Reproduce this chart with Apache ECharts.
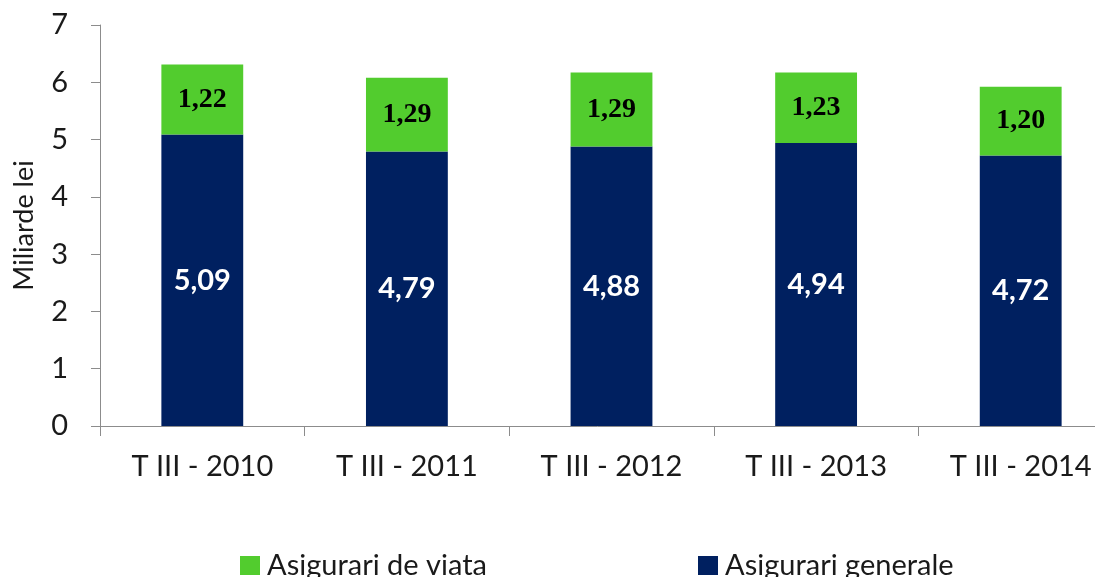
<!DOCTYPE html>
<html>
<head>
<meta charset="utf-8">
<script src="https://cdn.jsdelivr.net/npm/echarts@6/dist/echarts.min.js"></script>
<style>
  html, body { margin: 0; padding: 0; background: #fff; }
  #chart { width: 1095px; height: 577px; }
</style>
</head>
<body>
<div id="chart"></div>
<script>
const categories = ['T III - 2010', 'T III - 2011', 'T III - 2012', 'T III - 2013', 'T III - 2014'];
const generale = [5.09, 4.79, 4.88, 4.94, 4.72];
const viata = [1.22, 1.29, 1.29, 1.23, 1.20];
const yTicks = [0, 1, 2, 3, 4, 5, 6, 7];

const fmt = (v) => v.toFixed(2).replace('.', ',');

const legendBase = {
  top: 546,
  itemWidth: 20,
  itemHeight: 19,
  icon: 'rect',
  textStyle: { color: '#1a1a1a', fontSize: 29, fontFamily: 'Lato', padding: [0, 0, 0, 2] }
};

const myChart = echarts.init(document.getElementById('chart'));
myChart.setOption({
  animation: false,
  textStyle: { fontFamily: 'Lato' },
  grid: {
    left: 100,
    top: 25,
    width: 1023,
    height: 401,
    containLabel: false,
    outerBoundsMode: 'none'
  },
  legend: [
    Object.assign({ data: ['Asigurari de viata'], left: 235 }, legendBase),
    Object.assign({ data: ['Asigurari generale'], left: 693 }, legendBase)
  ],
  xAxis: {
    type: 'category',
    data: categories,
    axisLine: { lineStyle: { color: '#8c8c8c' } },
    axisTick: { show: true, length: 10, lineStyle: { color: '#8c8c8c' } },
    axisLabel: { color: '#1a1a1a', fontSize: 29, margin: 26, fontFamily: 'Lato' }
  },
  yAxis: {
    type: 'value',
    min: yTicks[0],
    max: yTicks[yTicks.length - 1],
    interval: 1,
    name: 'Miliarde lei',
    nameLocation: 'middle',
    nameGap: 62,
    nameTextStyle: { color: '#1a1a1a', fontSize: 27, fontFamily: 'Lato' },
    splitLine: { show: false },
    axisLine: { show: true, lineStyle: { color: '#8c8c8c' } },
    axisTick: { show: true, length: 9, lineStyle: { color: '#8c8c8c' } },
    axisLabel: { color: '#1a1a1a', fontSize: 29, margin: 32, fontFamily: 'Lato' }
  },
  series: [
    {
      name: 'Asigurari generale',
      type: 'bar',
      stack: 'total',
      barWidth: '40%',
      data: generale,
      itemStyle: { color: '#002060' },
      label: {
        show: true,
        position: 'inside',
        formatter: (p) => fmt(p.value),
        color: '#fff',
        fontSize: 29,
        fontWeight: 'bold',
        fontFamily: 'Lato'
      }
    },
    {
      name: 'Asigurari de viata',
      type: 'bar',
      stack: 'total',
      barWidth: '40%',
      data: viata,
      itemStyle: { color: '#52cc2e' },
      label: {
        show: true,
        position: 'inside',
        formatter: (p) => fmt(p.value),
        color: '#000',
        fontSize: 28,
        fontWeight: 'bold',
        fontFamily: 'Liberation Serif'
      }
    }
  ]
});
</script>
</body>
</html>
